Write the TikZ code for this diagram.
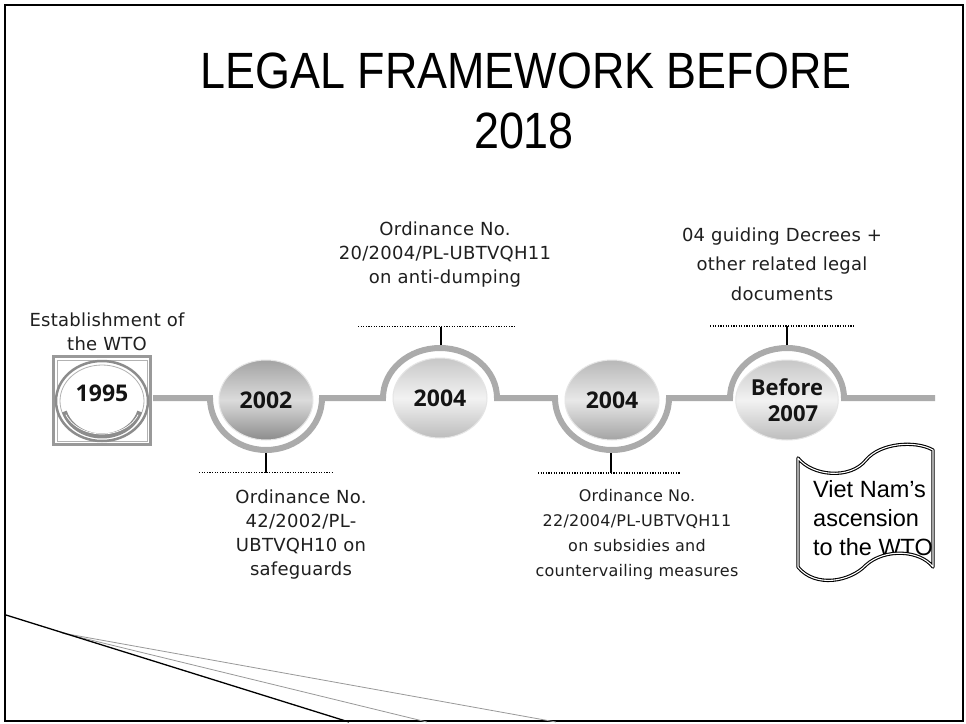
\documentclass[tikz,border=0pt]{standalone}
\usepackage{fontspec}
\setmainfont[LetterSpace=1.5]{DejaVu Sans}
\newfontfamily\titlefont[FakeStretch=0.88]{Liberation Sans}
\newfontfamily\yearfont{Open Sans}
\newfontfamily\scrollfont{Liberation Sans}
\usetikzlibrary{shapes.geometric}
\begin{document}
\begin{tikzpicture}[x=1pt,y=-1pt,
  lbl/.style={align=center, text=black!88, inner sep=0pt, font=\fontsize{18}{24}\selectfont},
  lblsmall/.style={align=center, text=black!88, inner sep=0pt, font=\fontsize{16}{25}\selectfont},
  tline/.style={draw=black!33, line width=6pt},
  ball/.style={ellipse, draw=black!10, line width=1pt, inner sep=0pt,
     minimum width=94pt, minimum height=80pt, text=black!92,
     font=\yearfont\bfseries\fontsize{23}{26}\selectfont},
  darkball/.style={ball, top color=black!36, bottom color=black!45, middle color=black!14},
  lightball/.style={ball, top color=black!22, bottom color=black!26, middle color=black!5},
  midball/.style={ball, top color=black!28, bottom color=black!36, middle color=black!9},
  stem/.style={draw=black, line width=1.4pt},
  dotline/.style={draw=black, line width=1.3pt, dash pattern=on 1.1pt off 1.5pt},
]
\useasboundingbox (0,0) rectangle (966,723);
\fill[white] (0,0) rectangle (966,723);
% frame
\draw[line width=2pt] (5,5) rectangle (963,721);

% title
\node[anchor=base, inner sep=0pt, font=\titlefont\fontsize{51}{60}\selectfont] (title1) at (526,88) {LEGAL FRAMEWORK BEFORE};
\node[anchor=base, inner sep=0pt, font=\titlefont\fontsize{51}{60}\selectfont] (title2) at (524,148) {2018};

% bottom-left decoration
\draw[black!40, line width=0.8pt] (62,633) -- (427,722);
\draw[black!40, line width=0.8pt] (62,633) -- (556,722);
\draw[black, line width=1.3pt] (6,615) -- (349,722);

% timeline
\draw[tline] (153,398) -- (210,398)
  arc[start angle=180, end angle=0, x radius=56, y radius=52] -- (383,398)
  arc[start angle=180, end angle=360, x radius=57, y radius=50] -- (555,398)
  arc[start angle=180, end angle=0, x radius=57, y radius=52] -- (730,398)
  arc[start angle=180, end angle=360, x radius=57, y radius=50] -- (935,398);

% 1995
\node[draw=black!40, line width=3.5pt, fill=white, minimum width=97pt, minimum height=88pt, inner sep=0pt] (b1995) at (102,400.5) {};
\draw[black!30, line width=0.8pt] (57,360) rectangle (147,441);
\draw[black!45, line width=2.5pt, fill=white] (102,401) ellipse [x radius=46, y radius=40];
\draw[black!30, line width=0.8pt] (102,401) ellipse [x radius=42, y radius=36];
\draw[black!45, line width=5pt] ([shift={(102,403)}]15:39 and 33) arc[start angle=15, end angle=165, x radius=39, y radius=33];
\draw[white, line width=0.7pt] ([shift={(102,403)}]22:39 and 31) arc[start angle=22, end angle=158, x radius=39, y radius=31];
\node[inner sep=0pt, text=black!92, font=\yearfont\bfseries\fontsize{23}{26}\selectfont] (y1995) at (102,393) {1995};

% balls
\node[darkball] (y2002) at (266,400) {2002};
\node[lightball] (y2004a) at (440,398) {2004};
\node[midball] (y2004b) at (612,400) {2004};
\node[lightball, align=center, font=\yearfont\bfseries\fontsize{22}{26}\selectfont] (y2007) at (787,400) {Before\\\hspace*{12pt}2007};

% stems and dotted lines
\coordinate (s2002a) at (266,453); \coordinate (s2002b) at (266,472.5);
\coordinate (d2002l) at (199,472.5); \coordinate (d2002r) at (332,472.5);
\coordinate (s2004aa) at (441,345); \coordinate (s2004ab) at (441,326.5);
\coordinate (d2004al) at (358,326.5); \coordinate (d2004ar) at (516,326.5);
\coordinate (s2004ba) at (611,453); \coordinate (s2004bb) at (611,473);
\coordinate (d2004bl) at (538,473); \coordinate (d2004br) at (680,473);
\coordinate (s2007a) at (787,345); \coordinate (s2007b) at (787,326);
\coordinate (d2007l) at (710,326); \coordinate (d2007r) at (855,326);
\draw[stem] (s2002a) -- (s2002b);
\draw[stem] (s2004aa) -- (s2004ab);
\draw[stem] (s2004ba) -- (s2004bb);
\draw[stem] (s2007a) -- (s2007b);
\draw[dotline] (d2002l) -- (d2002r);
\draw[dotline] (d2004al) -- (d2004ar);
\draw[dotline] (d2004bl) -- (d2004br);
\draw[dotline] (d2007l) -- (d2007r);

% labels
\node[lbl] (lwto) at (107,332) {Establishment of\\the WTO};
\node[lbl] (l2002) at (301,535) {Ordinance No.\\42/2002/PL-\\UBTVQH10 on\\safeguards};
\node[lbl] (l2004a) at (445,255) {Ordinance No.\\20/2004/PL-UBTVQH11\\on anti-dumping};
\node[lblsmall] (l2004b) at (637,535) {Ordinance No.\\22/2004/PL-UBTVQH11\\on subsidies and\\countervailing measures};
\node[lbl, font=\fontsize{18}{29.5}\selectfont] (l2007) at (782,264) {04 guiding Decrees +\\other related legal\\documents};

% scroll
\path[fill=white] (798,458) .. controls (812,476) and (850,480) .. (866,460)
  .. controls (880,443) and (915,440) .. (933,450) -- (933,567)
  .. controls (920,550) and (885,548) .. (866,565)
  .. controls (850,582) and (815,588) .. (798,567) -- cycle;
\begin{scope}
\clip (798,458) .. controls (812,476) and (850,480) .. (866,460)
  .. controls (880,443) and (915,440) .. (933,450) -- (933,567)
  .. controls (920,550) and (885,548) .. (866,565)
  .. controls (850,582) and (815,588) .. (798,567) -- cycle;
\node[anchor=west, align=left, inner sep=0pt, font=\scrollfont\fontsize{23.5}{29}\selectfont] (scrolltext) at (813,518) {Viet Nam’s\\ascension\\to the WTO};
\end{scope}
\draw[line width=1.1pt, double=white, double distance=1.1pt, line join=round]
  (798,458) .. controls (812,476) and (850,480) .. (866,460)
  .. controls (880,443) and (915,440) .. (933,450) -- (933,567)
  .. controls (920,550) and (885,548) .. (866,565)
  .. controls (850,582) and (815,588) .. (798,567) -- cycle;
\end{tikzpicture}
\end{document}
